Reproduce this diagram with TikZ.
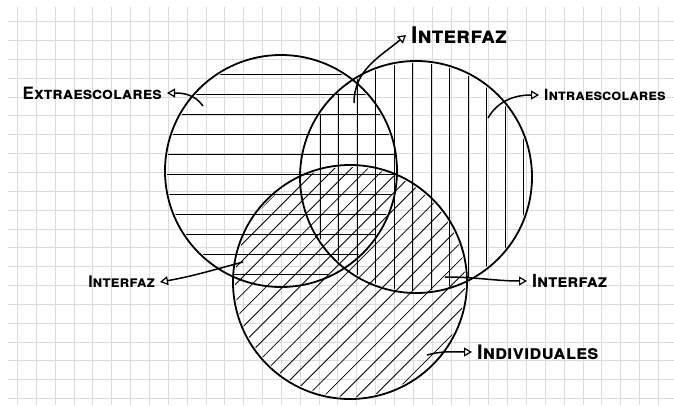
\documentclass[tikz,border=0pt]{standalone}
\usepackage{fontspec}
\setmainfont{TeX Gyre Heros}
\usetikzlibrary{arrows.meta}

\begin{document}
\begin{tikzpicture}[
    x=1pt, y=1pt,
    grid/.style={draw=black!14, line width=0.6pt},
    ring/.style={draw, line width=1.8pt},
    hatch/.style={draw, line width=0.8pt},
    lbl/.style={font=\fontsize{18}{18}\selectfont\scshape, inner xsep=5pt, inner ysep=0pt},
    big/.style={font=\fontsize{#1}{#1}\selectfont\bfseries\scshape},
    line/.style={draw, -{Triangle[open, length=8pt, width=9pt, line width=1.2pt]}, line width=1.5pt}
]
    \useasboundingbox (0,0) rectangle (674,405);
    \fill[white] (0,0) rectangle (674,405);
    \foreach \i in {0,...,34}
        \draw[grid] ({17.3+18.85*\i},0) -- ({17.3+18.85*\i},398);
    \foreach \i in {1,...,21}
        \draw[grid] (8,{402.4-18.85*\i}) -- (674,{402.4-18.85*\i});

    \coordinate (extra) at (281,234);
    \coordinate (intra) at (416,228);
    \coordinate (indiv) at (350,123);

    % hatching
    \begin{scope}
        \clip (extra) circle (114);
        \foreach \y in {331,311,...,131}
            \draw[hatch] (160,\y) -- (400,\y);
    \end{scope}
    \begin{scope}
        \clip (intra) circle (114);
        \foreach \x in {320,338.5,...,525}
            \draw[hatch] (\x,105) -- (\x,350);
    \end{scope}
    \begin{scope}
        \clip (indiv) circle (115);
        \foreach \d in {64.6,81.3,...,393}
            \draw[hatch] (\d,0) -- ({\d+300},300);
    \end{scope}

    \draw[ring] (extra) circle (116);
    \draw[ring] (intra) circle (116);
    \draw[ring] (indiv) circle (117);

    % labels
    \node[lbl, big=17, anchor=east] (lblExtra) at (167,312) {Extraescolares};
    \node[lbl, big=23, anchor=west] (lblTop) at (406,370) {Interfaz};
    \node[lbl, big=15.5, anchor=west] (lblIntra) at (539,310) {Intraescolares};
    \node[lbl, big=16, anchor=east] (lblLeft) at (160,123) {Interfaz};
    \node[lbl, big=18, anchor=west] (lblRight) at (527,124) {Interfaz};
    \node[lbl, big=20, anchor=west] (lblIndiv) at (472,53) {Individuales};

    \coordinate (tExtra) at (203,299);
    \coordinate (tTop) at (354,302);
    \coordinate (tIntra) at (488,287);
    \coordinate (tLeft) at (243,143);
    \coordinate (tRight) at (445,128);
    \coordinate (tIndiv) at (427,50);

    \path [line] (tExtra) to[out=125, in=0] (lblExtra.east);
    \path [line] (tTop) to[out=90, in=220] (lblTop.west);
    \path [line] (tIntra) to[out=60, in=180] (lblIntra.west);
    \path [line] (tLeft) to[out=195, in=10] (lblLeft.east);
    \path [line] (tRight) to[out=0, in=180] (lblRight.west);
    \path [line] (tIndiv) to[out=15, in=180] (lblIndiv.west);
\end{tikzpicture}
\end{document}
